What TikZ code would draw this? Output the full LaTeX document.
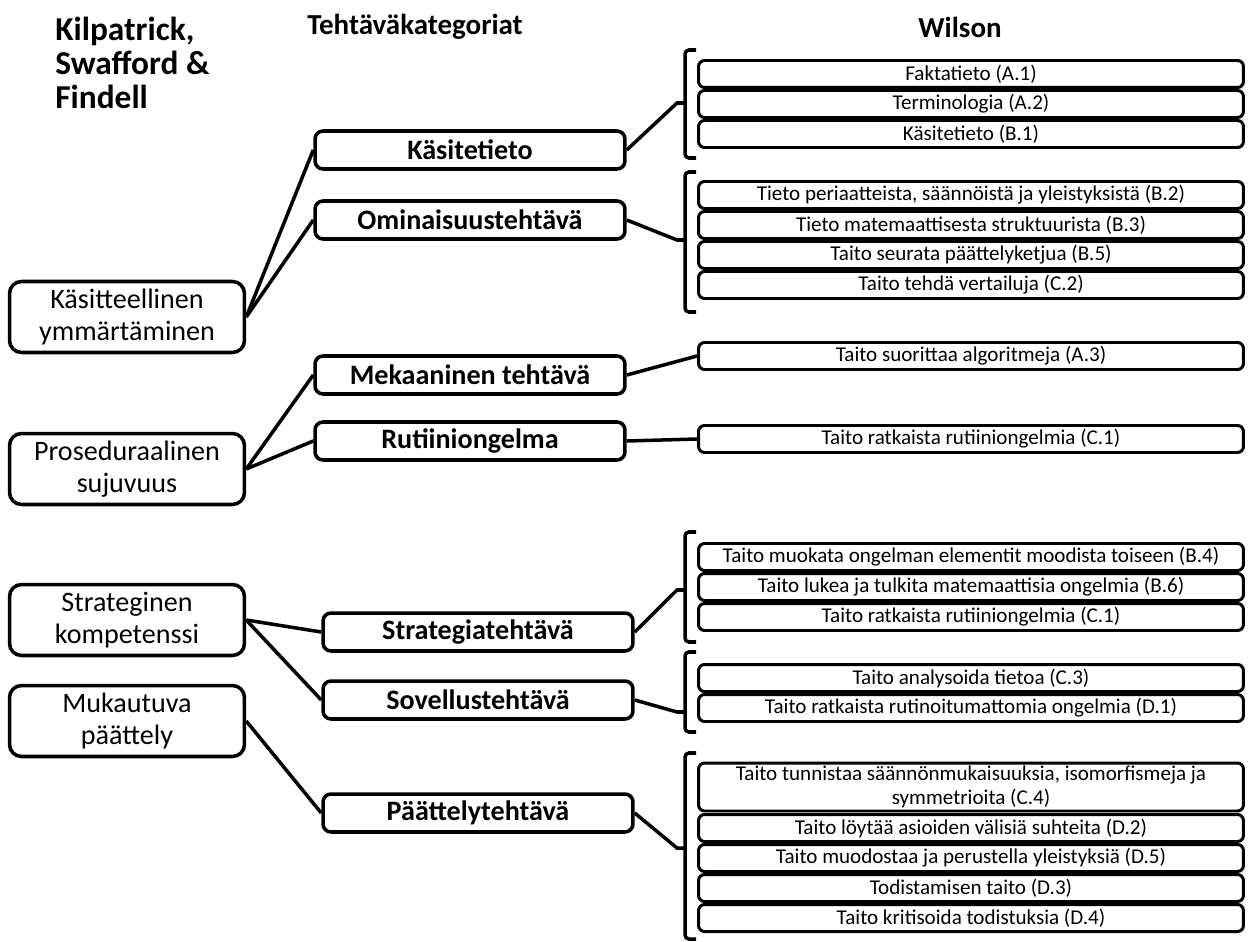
\documentclass[tikz,border=0pt]{standalone}
\usepackage{fontspec}
\setmainfont{Carlito}

\begin{document}
\begin{tikzpicture}[x=0.02cm,y=-0.02cm,
  head/.style={font=\fontsize{16.5}{19.5}\selectfont\bfseries, inner sep=0},
  kbox/.style={draw, line width=2pt, rounded corners=0.24cm, minimum width=4.7cm, minimum height=1.42cm, align=center, inner sep=0, font=\fontsize{16}{18.5}\selectfont},
  tbox/.style={draw, line width=2pt, rounded corners=0.16cm, minimum width=6.2cm, minimum height=0.76cm, inner sep=0, font=\fontsize{16}{19}\selectfont\bfseries},
  wbox/.style={draw, line width=1.7pt, rounded corners=0.12cm, minimum width=10.9cm, minimum height=0.54cm, inner sep=0, align=center, font=\fontsize{12}{13.8}\selectfont},
  link/.style={line width=2pt},
  brace/.style={line width=2pt, rounded corners=0.08cm}]
\useasboundingbox (0,0) rectangle (1250,942);

% Column titles
\node[head, font=\fontsize{19}{19.2}\selectfont\bfseries, anchor=west, align=left] (kil) at (55,63) {Kilpatrick,\\Swafford \&\\Findell};
\node[head] (teh) at (415,27) {Tehtäväkategoriat};
\node[head] (wil) at (960,27) {Wilson};

% Kilpatrick, Swafford & Findell
\node[kbox] (kas) at (127,317) {Käsitteellinen\\ymmärtäminen};
\node[kbox] (pro) at (127,469) {Proseduraalinen\\sujuvuus};
\node[kbox] (stra) at (127,620) {Strateginen\\kompetenssi};
\node[kbox] (muk) at (127,721) {Mukautuva\\päättely};

% Task categories
\node[tbox] (kt) at (470,150) {Käsitetieto};
\node[tbox] (om) at (470,220) {Ominaisuustehtävä};
\node[tbox] (me) at (470,375) {Mekaaninen tehtävä};
\node[tbox] (ru) at (470,441) {Rutiiniongelma};
\node[tbox] (st) at (478,632) {Strategiatehtävä};
\node[tbox] (so) at (478,700) {Sovellustehtävä};
\node[tbox] (pa) at (478,813) {Päättelytehtävä};

% Wilson
\node[wbox] (a1) at (971,74) {Faktatieto (A.1)};
\node[wbox] (a2) at (971,104) {Terminologia (A.2)};
\node[wbox] (b1) at (971,134) {Käsitetieto (B.1)};

\node[wbox] (b2) at (971,195) {Tieto periaatteista, säännöistä ja yleistyksistä (B.2)};
\node[wbox] (b3) at (971,225) {Tieto matemaattisesta struktuurista (B.3)};
\node[wbox] (b5) at (971,255) {Taito seurata päättelyketjua (B.5)};
\node[wbox] (c2) at (971,285) {Taito tehdä vertailuja (C.2)};

\node[wbox] (a3) at (971,356) {Taito suorittaa algoritmeja (A.3)};
\node[wbox] (c1) at (971,439) {Taito ratkaista rutiiniongelmia (C.1)};

\node[wbox] (b4) at (971,557) {Taito muokata ongelman elementit moodista toiseen (B.4)};
\node[wbox] (b6) at (971,587) {Taito lukea ja tulkita matemaattisia ongelmia (B.6)};
\node[wbox] (c1b) at (971,617) {Taito ratkaista rutiiniongelmia (C.1)};

\node[wbox] (c3) at (971,678) {Taito analysoida tietoa (C.3)};
\node[wbox] (d1) at (971,708) {Taito ratkaista rutinoitumattomia ongelmia (D.1)};

\node[wbox, minimum height=0.96cm] (c4) at (971,787) {Taito tunnistaa säännönmukaisuuksia, isomorfismeja ja\\symmetrioita (C.4)};
\node[wbox] (d2) at (971,828) {Taito löytää asioiden välisiä suhteita (D.2)};
\node[wbox] (d5) at (971,858) {Taito muodostaa ja perustella yleistyksiä (D.5)};
\node[wbox] (d3) at (971,888) {Todistamisen taito (D.3)};
\node[wbox] (d4) at (971,918) {Taito kritisoida todistuksia (D.4)};

% Brackets
\draw[brace] (696,50) -- (685,50) -- (685,158) -- (696,158);
\draw[brace] (696,172) -- (685,172) -- (685,312) -- (696,312);
\draw[brace] (696,532) -- (685,532) -- (685,642) -- (696,642);
\draw[brace] (696,652) -- (685,652) -- (685,732) -- (696,732);
\draw[brace] (696,753) -- (685,753) -- (685,939) -- (696,939);

\coordinate (n1) at (677,103);
\coordinate (n2) at (677,240);
\coordinate (n3) at (677,590);
\coordinate (n4) at (677,712);
\coordinate (n5) at (677,848);

% Connectors
\draw[link] (kas.east) -- (kt.west);
\draw[link] (kas.east) -- (om.west);
\draw[link] (pro.east) -- (me.west);
\draw[link] (pro.east) -- (ru.west);
\draw[link] (stra.east) -- (st.west);
\draw[link] (stra.east) -- (so.west);
\draw[link] (muk.east) -- (pa.west);

\draw[link] (kt.east) -- (n1) -- ++(8,0);
\draw[link] (om.east) -- (n2) -- ++(8,0);
\draw[link] (me.east) -- (a3.west);
\draw[link] (ru.east) -- (c1.west);
\draw[link] (st.east) -- (n3) -- ++(8,0);
\draw[link] (so.east) -- (n4) -- ++(8,0);
\draw[link] (pa.east) -- (n5) -- ++(8,0);

\end{tikzpicture}
\end{document}
